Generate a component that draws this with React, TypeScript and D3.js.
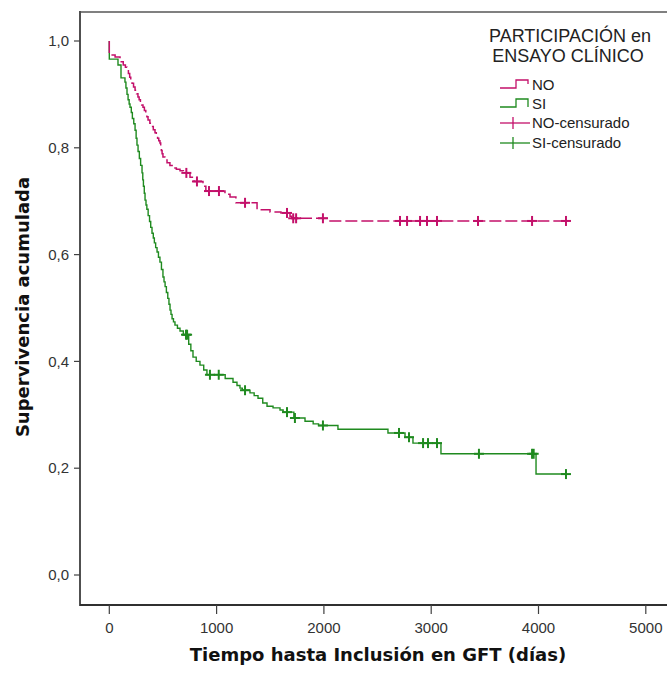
import React from "react";
import * as d3 from "d3";

// ---- data ----
const noTimes = [0, 0, 54, 100, 130, 150, 165, 178, 190, 200, 212, 226, 240, 254, 267, 278, 290, 302, 314, 327, 340, 350, 361, 378, 395, 410, 426, 438, 450, 461, 472, 479, 485, 492, 500, 518, 538, 565, 594, 625, 659, 690, 752, 790, 873, 900, 1078, 1125, 1180, 1377, 1498, 1600, 1684, 1700, 2057, 4256];
const noSurv = [1.0, 0.974, 0.970, 0.961, 0.955, 0.951, 0.946, 0.939, 0.932, 0.927, 0.921, 0.914, 0.908, 0.901, 0.895, 0.890, 0.885, 0.880, 0.876, 0.870, 0.864, 0.858, 0.852, 0.846, 0.840, 0.834, 0.828, 0.823, 0.818, 0.813, 0.809, 0.802, 0.795, 0.789, 0.783, 0.777, 0.772, 0.767, 0.762, 0.760, 0.757, 0.753, 0.745, 0.737, 0.728, 0.719, 0.713, 0.708, 0.697, 0.684, 0.680, 0.678, 0.672, 0.668, 0.663, 0.663];
const noCensored = [718, 817, 929, 1022, 1265, 1656, 1714, 1741, 1991, 2709, 2775, 2896, 2961, 3054, 3436, 3940, 4256];

const siTimes = [0, 0, 81, 109, 146, 155, 165, 175, 185, 193, 205, 215, 228, 240, 250, 258, 268, 280, 292, 305, 312, 318, 326, 333, 342, 350, 362, 375, 386, 398, 410, 420, 432, 445, 458, 472, 486, 500, 510, 520, 532, 545, 556, 566, 575, 585, 598, 612, 635, 659, 690, 740, 760, 780, 810, 845, 880, 910, 1080, 1153, 1190, 1218, 1240, 1311, 1350, 1386, 1430, 1470, 1526, 1591, 1620, 1720, 1824, 1900, 1950, 2131, 2597, 2756, 2830, 3091, 3977, 4256];
const siSurv = [1.0, 0.966, 0.955, 0.931, 0.923, 0.912, 0.900, 0.890, 0.882, 0.876, 0.866, 0.855, 0.845, 0.833, 0.818, 0.805, 0.793, 0.780, 0.767, 0.753, 0.740, 0.728, 0.715, 0.702, 0.693, 0.685, 0.673, 0.662, 0.651, 0.640, 0.631, 0.622, 0.613, 0.605, 0.595, 0.586, 0.572, 0.558, 0.549, 0.540, 0.529, 0.518, 0.507, 0.496, 0.488, 0.480, 0.474, 0.468, 0.462, 0.457, 0.450, 0.432, 0.420, 0.408, 0.400, 0.393, 0.384, 0.375, 0.368, 0.361, 0.355, 0.350, 0.346, 0.341, 0.336, 0.331, 0.322, 0.316, 0.313, 0.309, 0.305, 0.294, 0.288, 0.283, 0.280, 0.273, 0.266, 0.258, 0.247, 0.227, 0.189, 0.189];
const siCensored = [715, 725, 938, 1020, 1265, 1656, 1730, 1991, 2700, 2793, 2924, 2970, 3054, 3445, 3940, 3955, 4256];

const xTicks = [0, 1000, 2000, 3000, 4000, 5000];
const xTickLabels = ["0", "1000", "2000", "3000", "4000", "5000"];
const yTicks = [0, 0.2, 0.4, 0.6, 0.8, 1.0];
const yTickLabels = ["0,0", "0,2", "0,4", "0,6", "0,8", "1,0"];

const legendTitle = ["PARTICIPACIÓN en", "ENSAYO CLÍNICO"];
const legendLabels = ["NO", "SI", "NO-censurado", "SI-censurado"];

const NO_COLOR = "#c3106a";
const SI_COLOR = "#1f8a1f";

const W = 667;
const H = 673;
const frameLeft = 80;
const frameTop = 12;
const frameBottom = 605;
const frameRight = 667;

export default function App() {
  const x = d3.scaleLinear().domain([0, 5000]).range([109.3, 645.8]);
  const y = d3.scaleLinear().domain([0, 1]).range([575, 41]);

  const line = d3
    .line<[number, number]>()
    .x((d) => x(d[0]))
    .y((d) => y(d[1]))
    .curve(d3.curveStepAfter);

  const noPts: [number, number][] = noTimes.map((t, i) => [t, noSurv[i]]);
  const siPts: [number, number][] = siTimes.map((t, i) => [t, siSurv[i]]);

  const survAt = (times: number[], surv: number[], t: number) => {
    const i = d3.bisectRight(times, t) - 1;
    return surv[Math.max(0, i)];
  };

  const cross = (cx: number, cy: number, color: string, key: string, hw = 5, hh = 5) => (
    <g key={key} stroke={color} strokeWidth={2}>
      <line x1={cx - hw} x2={cx + hw} y1={cy} y2={cy} />
      <line x1={cx} x2={cx} y1={cy - hh} y2={cy + hh} />
    </g>
  );

  const legendYs = [85, 104, 123, 143];

  return (
    <svg
      width={W}
      height={H}
      style={{ position: "absolute", left: 0, top: 0, background: "#fff" }}
    >
      {/* frame */}
      <line x1={frameLeft} x2={frameRight} y1={frameTop} y2={frameTop} stroke="#808080" strokeWidth={2} />
      <line x1={frameLeft} x2={frameLeft} y1={frameTop - 1} y2={frameBottom + 1} stroke="#505050" strokeWidth={2} />
      <line x1={frameLeft} x2={frameRight} y1={frameBottom} y2={frameBottom} stroke="#303030" strokeWidth={2} />

      {/* y ticks */}
      {yTicks.map((v, i) => (
        <g key={"yt" + i}>
          <line x1={frameLeft - 6} x2={frameLeft} y1={y(v)} y2={y(v)} stroke="#404040" strokeWidth={1.2} />
          <text
            x={frameLeft - 11}
            y={y(v)}
            dy="0.35em"
            textAnchor="end"
            fontFamily="Liberation Sans, Arial, sans-serif"
            fontSize={15}
            fill="#333"
          >
            {yTickLabels[i]}
          </text>
        </g>
      ))}

      {/* x ticks */}
      {xTicks.map((v, i) => (
        <g key={"xt" + i}>
          <line x1={x(v)} x2={x(v)} y1={frameBottom} y2={frameBottom + 9} stroke="#404040" strokeWidth={1.2} />
          <text
            x={x(v)}
            y={633}
            textAnchor="middle"
            fontFamily="Liberation Sans, Arial, sans-serif"
            fontSize={15}
            fill="#333"
          >
            {xTickLabels[i]}
          </text>
        </g>
      ))}

      {/* axis titles */}
      <text
        x={378}
        y={661}
        textAnchor="middle"
        fontFamily="DejaVu Sans, Verdana, sans-serif"
        fontWeight="bold"
        fontSize={18}
        fill="#111"
      >
        Tiempo hasta Inclusión en GFT (días)
      </text>
      <text
        transform="translate(29,307) rotate(-90)"
        textAnchor="middle"
        fontFamily="DejaVu Sans, Verdana, sans-serif"
        fontWeight="bold"
        fontSize={18}
        fill="#111"
      >
        Supervivencia acumulada
      </text>

      {/* curves */}
      <path d={line(siPts) || ""} fill="none" stroke={SI_COLOR} strokeWidth={1.4} />
      <path d={line(noPts) || ""} fill="none" stroke={NO_COLOR} strokeWidth={1.5} strokeDasharray="12,4" />

      {/* censor marks */}
      {noCensored.map((t, i) => cross(x(t), y(survAt(noTimes, noSurv, t)), NO_COLOR, "nc" + i))}
      {siCensored.map((t, i) => cross(x(t), y(survAt(siTimes, siSurv, t)), SI_COLOR, "sc" + i))}

      {/* legend */}
      <text
        x={570}
        y={42}
        textAnchor="middle"
        fontFamily="Liberation Sans, Arial, sans-serif"
        fontSize={18}
        fill="#222"
      >
        {legendTitle[0]}
      </text>
      <text
        x={568}
        y={62}
        textAnchor="middle"
        fontFamily="Liberation Sans, Arial, sans-serif"
        fontSize={18}
        fill="#222"
      >
        {legendTitle[1]}
      </text>

      {/* NO step symbol */}
      <path
        d={`M500,${legendYs[0] + 3}H516V${legendYs[0] - 5}H528V${legendYs[0] - 1}`}
        fill="none"
        stroke={NO_COLOR}
        strokeWidth={1.3}
      />
      {/* SI step symbol */}
      <path
        d={`M500,${legendYs[1] + 3}H516V${legendYs[1] - 5}H528V${legendYs[1] + 3}`}
        fill="none"
        stroke={SI_COLOR}
        strokeWidth={1.3}
      />
      {/* censor symbols */}
      <line x1={500} x2={530} y1={legendYs[2]} y2={legendYs[2]} stroke={NO_COLOR} strokeWidth={1.3} />
      <line x1={513} x2={513} y1={legendYs[2] - 6} y2={legendYs[2] + 6} stroke={NO_COLOR} strokeWidth={1.3} />
      <line x1={500} x2={530} y1={legendYs[3]} y2={legendYs[3]} stroke={SI_COLOR} strokeWidth={1.3} />
      <line x1={513} x2={513} y1={legendYs[3] - 6} y2={legendYs[3] + 6} stroke={SI_COLOR} strokeWidth={1.3} />

      {legendLabels.map((lab, i) => (
        <text
          key={"ll" + i}
          x={532}
          y={legendYs[i]}
          dy="0.35em"
          fontFamily="Liberation Sans, Arial, sans-serif"
          fontSize={15}
          fill="#222"
        >
          {lab}
        </text>
      ))}
    </svg>
  );
}
